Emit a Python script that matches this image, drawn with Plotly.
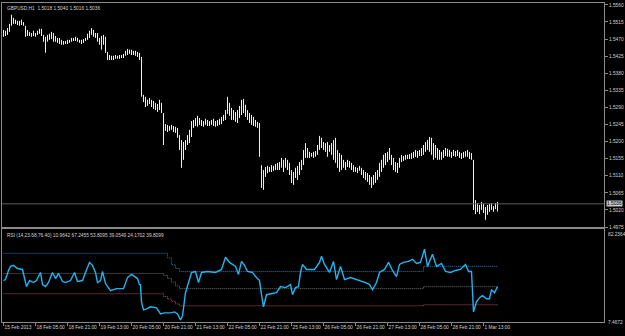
import plotly.graph_objects as go

# ---------------- data ----------------
symbol_header = "GBPUSD,H1  1.5018 1.5040 1.5016 1.5036"
rsi_header = "RSI (14,23.68,76.40) 10.9642 67.2455 53.8095 39.0549 24.1702 39.8099"
last_price = 1.5036

highs = [1.5494,1.5492,1.5499,1.5510,1.5534,1.5526,1.5521,1.5518,1.5518,1.5521,
         1.5515,1.5505,1.5494,1.5489,1.5486,1.5492,1.5486,1.5492,1.5497,1.5497,
         1.5481,1.5476,1.5481,1.5484,1.5489,1.5486,1.5478,1.5473,1.5473,1.5468,
         1.5465,1.5465,1.5468,1.5468,1.5473,1.5473,1.5476,1.5473,1.5468,1.5468,
         1.5470,1.5473,1.5484,1.5492,1.5499,1.5494,1.5486,1.5486,1.5473,1.5478,
         1.5481,1.5476,1.5436,1.5428,1.5426,1.5426,1.5428,1.5426,1.5428,1.5428,
         1.5431,1.5439,1.5444,1.5442,1.5442,1.5439,1.5439,1.5436,1.5434,1.5423,
         1.5323,1.5318,1.5310,1.5315,1.5310,1.5307,1.5302,1.5299,1.5310,1.5302,
         1.5275,1.5246,1.5244,1.5241,1.5244,1.5241,1.5239,1.5236,1.5217,1.5204,
         1.5199,1.5204,1.5217,1.5231,1.5254,1.5257,1.5262,1.5268,1.5262,1.5257,
         1.5254,1.5260,1.5257,1.5254,1.5257,1.5260,1.5254,1.5257,1.5260,1.5265,
         1.5270,1.5283,1.5318,1.5302,1.5289,1.5283,1.5278,1.5283,1.5294,1.5310,
         1.5312,1.5297,1.5283,1.5275,1.5270,1.5265,1.5257,1.5252,1.5249,1.5138,
         1.5125,1.5133,1.5136,1.5133,1.5138,1.5136,1.5141,1.5144,1.5146,1.5157,
         1.5152,1.5157,1.5152,1.5144,1.5125,1.5120,1.5131,1.5136,1.5146,1.5152,
         1.5178,1.5196,1.5183,1.5173,1.5170,1.5173,1.5175,1.5191,1.5215,1.5210,
         1.5199,1.5196,1.5199,1.5191,1.5196,1.5204,1.5210,1.5178,1.5170,1.5165,
         1.5152,1.5146,1.5152,1.5149,1.5144,1.5138,1.5133,1.5131,1.5136,1.5131,
         1.5125,1.5120,1.5117,1.5112,1.5107,1.5112,1.5120,1.5125,1.5144,1.5152,
         1.5165,1.5170,1.5173,1.5183,1.5165,1.5157,1.5146,1.5144,1.5157,1.5165,
         1.5162,1.5165,1.5165,1.5167,1.5170,1.5173,1.5178,1.5175,1.5178,1.5183,
         1.5191,1.5199,1.5204,1.5212,1.5210,1.5196,1.5191,1.5183,1.5178,1.5173,
         1.5178,1.5183,1.5181,1.5178,1.5173,1.5178,1.5175,1.5178,1.5173,1.5170,
         1.5173,1.5175,1.5178,1.5173,1.5170,1.5152,1.5046,1.5038,1.5033,1.5041,
         1.5036,1.5028,1.5033,1.5036,1.5038,1.5030,1.5038,1.5041]

lows = [1.5476,1.5478,1.5481,1.5489,1.5505,1.5510,1.5510,1.5507,1.5505,1.5507,
        1.5505,1.5476,1.5478,1.5478,1.5476,1.5478,1.5476,1.5481,1.5484,1.5478,
        1.5463,1.5434,1.5463,1.5468,1.5470,1.5463,1.5463,1.5460,1.5457,1.5455,
        1.5455,1.5457,1.5457,1.5460,1.5463,1.5465,1.5465,1.5463,1.5460,1.5457,
        1.5460,1.5465,1.5468,1.5473,1.5481,1.5476,1.5473,1.5463,1.5455,1.5442,
        1.5455,1.5434,1.5415,1.5415,1.5415,1.5415,1.5418,1.5418,1.5418,1.5420,
        1.5420,1.5426,1.5428,1.5431,1.5428,1.5428,1.5426,1.5423,1.5415,1.5318,
        1.5304,1.5291,1.5294,1.5299,1.5291,1.5286,1.5283,1.5278,1.5283,1.5275,
        1.5191,1.5228,1.5225,1.5228,1.5231,1.5225,1.5223,1.5210,1.5178,1.5131,
        1.5152,1.5178,1.5191,1.5196,1.5212,1.5236,1.5241,1.5239,1.5244,1.5241,
        1.5239,1.5244,1.5241,1.5241,1.5244,1.5241,1.5239,1.5241,1.5244,1.5246,
        1.5254,1.5257,1.5273,1.5268,1.5257,1.5257,1.5252,1.5249,1.5262,1.5270,
        1.5275,1.5265,1.5257,1.5249,1.5244,1.5241,1.5239,1.5236,1.5160,1.5078,
        1.5073,1.5107,1.5117,1.5120,1.5120,1.5123,1.5125,1.5125,1.5125,1.5131,
        1.5120,1.5131,1.5125,1.5112,1.5091,1.5086,1.5104,1.5099,1.5112,1.5125,
        1.5138,1.5157,1.5157,1.5157,1.5160,1.5157,1.5160,1.5165,1.5178,1.5183,
        1.5178,1.5173,1.5160,1.5173,1.5165,1.5152,1.5144,1.5131,1.5120,1.5125,
        1.5131,1.5125,1.5133,1.5131,1.5125,1.5120,1.5120,1.5117,1.5123,1.5112,
        1.5104,1.5099,1.5094,1.5086,1.5078,1.5086,1.5091,1.5099,1.5107,1.5120,
        1.5131,1.5138,1.5146,1.5152,1.5138,1.5125,1.5120,1.5117,1.5131,1.5146,
        1.5149,1.5152,1.5154,1.5154,1.5154,1.5157,1.5160,1.5157,1.5162,1.5162,
        1.5165,1.5173,1.5178,1.5173,1.5165,1.5152,1.5157,1.5152,1.5152,1.5152,
        1.5157,1.5162,1.5160,1.5160,1.5157,1.5162,1.5160,1.5162,1.5157,1.5154,
        1.5157,1.5160,1.5160,1.5154,1.5152,1.5020,1.5009,1.5015,1.5009,1.5020,
        1.5012,1.4994,1.5007,1.5015,1.5020,1.5015,1.5022,1.5016]

rsi_x = [0,1,2.5,3.5,5,7,9.5,10.5,11.5,13,
         15,16.5,18.5,19.5,21,22.5,24.5,26,27.5,29.5,
         31,33.5,35.5,37,39.5,41,43,44.5,46,47,
         48.5,49.5,51,53.5,56.5,60,62,64,67,68,
         68.5,69,70,71.5,73.5,76.5,78.5,80.5,83.5,85.5,
         87,88.5,89.5,91,92.5,94,96,97.5,99,102,
         106,109,111,113,116,117.5,119,120.5,122,124.5,
         126,128,129,130,131.5,133.5,136.5,138.5,141,143.5,
         144.5,146,147.5,148.5,149.5,151.5,155.5,158,159,160.5,
         163,165,166.5,168.5,170.5,173.5,176.5,179.5,181,183,
         184.5,186.5,188,190.5,192.5,194.5,196.5,198,200,202.5,
         204.5,206.5,208.5,210.5,212,214.5,216.5,219,221,223.5,
         226,228.5,231,232.5,234,235,236.5,238,239.5,241.5,
         243,244,245.5,247]
rsi_v = [40.8,41.6,48.9,52.2,53.0,50.5,49.7,41.6,35.9,40.8,
         39.2,40.8,47.3,37.5,35.9,39.2,47.3,42.4,46.5,40.0,
         39.2,40.8,47.3,40.0,40.8,47.3,55.4,53.0,47.3,39.2,
         40.8,48.1,38.4,32.7,34.3,34.3,43.2,45.7,42.4,37.5,
         37.5,23.7,17.2,18.0,19.7,18.9,14.0,14.8,14.8,15.6,
         14.0,9.1,12.4,31.0,39.2,47.3,48.1,39.2,47.3,48.1,
         47.3,49.7,59.5,55.4,52.2,45.7,56.2,53.0,48.1,47.3,
         44.0,40.8,29.4,19.7,29.4,30.2,31.0,35.9,35.1,37.5,
         29.4,35.1,35.9,47.3,53.8,49.7,49.7,55.4,60.3,53.8,
         47.3,56.2,41.6,52.2,41.6,43.2,41.6,40.0,39.2,37.5,
         33.5,39.2,47.3,49.7,55.4,48.9,44.0,53.8,55.4,56.2,
         57.9,54.6,55.4,66.0,52.2,61.9,52.2,54.6,48.1,47.3,
         48.9,49.7,53.8,48.1,48.1,15.6,23.7,27.0,28.6,26.2,
         26.2,33.5,31.0,35.9]

upper_x = [0, 80, 82, 84, 86, 88, 209, 210, 247]
upper_v = [62.7, 62.7, 59.0, 53.5, 50.5, 48.1, 48.1, 52.2, 52.2]
mid_x = [0, 78, 80, 82, 84, 86, 88, 209, 210, 247]
mid_v = [46.5, 46.5, 45.0, 42.5, 39.5, 36.5, 34.3, 34.3, 35.9, 35.9]
lower_x = [0, 78, 80, 82, 84, 86, 88, 209, 210, 247]
lower_v = [30.2, 30.2, 28.0, 26.0, 24.0, 22.0, 20.5, 20.5, 21.3, 21.3]

price_ticks = [1.5560, 1.5515, 1.5470, 1.5425, 1.5380, 1.5335, 1.5290,
               1.5245, 1.5200, 1.5155, 1.5110, 1.5065, 1.5020, 1.4975]
rsi_min, rsi_max = 7.4672, 82.2364

time_idx = [0, 16, 32, 48, 64, 80, 96, 112, 128, 144, 160, 176, 192, 208, 224, 240]
time_labels = ["15 Feb 2013", "18 Feb 05:00", "18 Feb 21:00", "19 Feb 13:00",
               "20 Feb 05:00", "20 Feb 21:00", "21 Feb 13:00", "22 Feb 05:00",
               "22 Feb 21:00", "25 Feb 13:00", "26 Feb 05:00", "26 Feb 21:00",
               "27 Feb 13:00", "28 Feb 05:00", "28 Feb 21:00", "1 Mar 13:00"]

# ---------------- figure ----------------
FRAME = "#8a8a8a"
TXT = "#d2d2d2"
FONT = "Liberation Sans"
FS = 4.8
XR = [-0.75, 300.25]
DOTS = "1px,1px"

fig = go.Figure()

bx, by = [], []
for i, (h, l) in enumerate(zip(highs, lows)):
    bx += [i, i, None]
    by += [l, h, None]
fig.add_trace(go.Scatter(x=bx, y=by, mode="lines", line=dict(color="#f0f0f0", width=1),
                         xaxis="x", yaxis="y", hoverinfo="skip"))

fig.add_trace(go.Scatter(x=upper_x, y=upper_v, mode="lines", line=dict(color="#1f7bb0", width=1, dash=DOTS, shape="hv"),
                         xaxis="x2", yaxis="y2", hoverinfo="skip"))
fig.add_trace(go.Scatter(x=mid_x, y=mid_v, mode="lines", line=dict(color="#707070", width=1, dash=DOTS, shape="hv"),
                         xaxis="x2", yaxis="y2", hoverinfo="skip"))
fig.add_trace(go.Scatter(x=lower_x, y=lower_v, mode="lines", line=dict(color="#b84c5e", width=1, dash=DOTS, shape="hv"),
                         xaxis="x2", yaxis="y2", hoverinfo="skip"))
fig.add_trace(go.Scatter(x=rsi_x, y=rsi_v, mode="lines", line=dict(color="#1cb6f2", width=1.4),
                         xaxis="x2", yaxis="y2", hoverinfo="skip"))

axis_common = dict(showgrid=False, zeroline=False, showline=True, linecolor=FRAME, linewidth=1,
                   mirror=True, automargin=False)

fig.update_layout(
    width=625, height=336,
    margin=dict(l=2, r=21, t=3, b=14),
    paper_bgcolor="black", plot_bgcolor="black",
    showlegend=False,
    xaxis=dict(domain=[0, 1], range=XR, anchor="y", showticklabels=False, ticks="", **axis_common),
    yaxis=dict(domain=[0.2978, 1], range=[1.4975, 1.5565], anchor="x", side="right",
               tickvals=price_ticks, ticktext=[f"{v:.4f}" for v in price_ticks],
               ticks="outside", ticklen=3, tickcolor=FRAME,
               tickfont=dict(family=FONT, size=FS, color=TXT), **axis_common),
    xaxis2=dict(domain=[0, 1], range=XR, anchor="y2", tickvals=time_idx, ticktext=time_labels,
                ticks="outside", ticklen=3, tickcolor=FRAME, ticklabelposition="outside right",
                tickangle=0,
                tickfont=dict(family=FONT, size=FS, color=TXT), **axis_common),
    yaxis2=dict(domain=[0, 0.2915], range=[rsi_min, rsi_max], anchor="x2", side="right",
                showticklabels=False, ticks="", **axis_common),
)

fig.add_shape(type="line", xref="x domain", yref="y", x0=0, x1=1, y0=last_price, y1=last_price,
              line=dict(color="#5c5c5c", width=1))

fig.add_annotation(xref="paper", yref="paper", x=0, y=1, xanchor="left", yanchor="top",
                   xshift=3, yshift=-1, text=symbol_header, showarrow=False,
                   font=dict(family=FONT, size=FS, color=TXT))
fig.add_annotation(xref="paper", yref="y2 domain", x=0, y=1, xanchor="left", yanchor="top",
                   xshift=3, yshift=-2, text=rsi_header, showarrow=False,
                   font=dict(family=FONT, size=FS, color=TXT))
fig.add_annotation(xref="paper", yref="y", x=1, y=last_price, xanchor="left", yanchor="middle",
                   xshift=2, text=f"{last_price:.4f}", showarrow=False, bgcolor="#c8c8c8",
                   borderpad=0, font=dict(family=FONT, size=FS, color="black"))
fig.add_annotation(xref="paper", yref="y2 domain", x=1, y=1, xanchor="left", yanchor="top",
                   xshift=2, yshift=-1, text=f"{rsi_max:.4f}", showarrow=False,
                   font=dict(family=FONT, size=FS, color=TXT))
fig.add_annotation(xref="paper", yref="y2 domain", x=1, y=0, xanchor="left", yanchor="middle",
                   xshift=2, text=f"{rsi_min:.4f}", showarrow=False,
                   font=dict(family=FONT, size=FS, color=TXT))

fig.write_html("out.html")
